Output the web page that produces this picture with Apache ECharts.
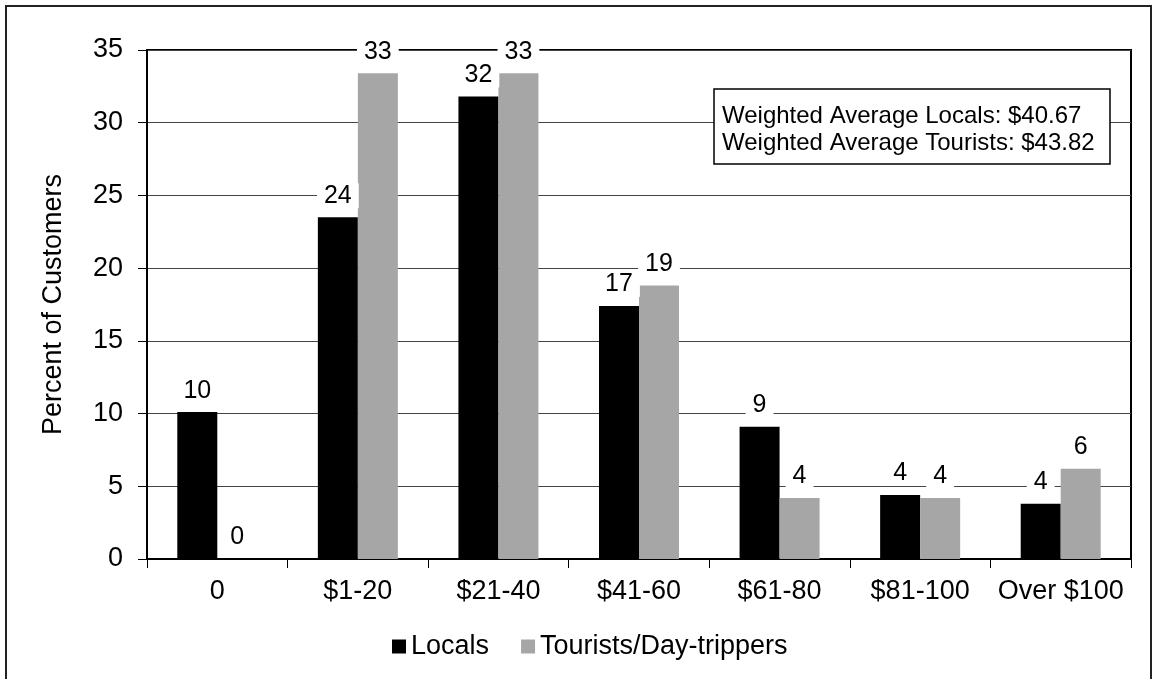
<!DOCTYPE html>
<html>
<head>
<meta charset="utf-8">
<script src="https://cdn.jsdelivr.net/npm/echarts@6/dist/echarts.min.js"></script>
<style>html,body{margin:0;padding:0;background:#fff}#c{width:1158px;height:679px}</style>
</head>
<body>
<div id="c"></div>
<script>
const categories = ['0', '$1-20', '$21-40', '$41-60', '$61-80', '$81-100', 'Over $100'];
const locals = [10.1, 23.5, 31.8, 17.4, 9.1, 4.4, 3.8];
const tourists = [0, 33.4, 33.4, 18.8, 4.2, 4.2, 6.2];
const seriesNames = ['Locals', 'Tourists/Day-trippers'];
const yTicks = [0, 5, 10, 15, 20, 25, 30, 35];
const noteLines = ['Weighted Average Locals: $40.67', 'Weighted Average Tourists: $43.82'];

const font = '"Liberation Sans", Arial, sans-serif';
const chart = echarts.init(document.getElementById('c'));
const labelCfg = {
  show: true, position: 'top', distance: 9,
  formatter: p => Math.round(p.value),
  fontFamily: font, fontSize: 25, color: '#000',
  backgroundColor: '#fff', padding: [0, 7]
};
chart.setOption({
  animation: false,
  textStyle: { fontFamily: font },
  grid: { left: 147, right: 27, top: 50, bottom: 120, show: true, borderColor: '#000', borderWidth: 2, containLabel: false },
  legend: {
    bottom: 14, left: 387, itemWidth: 14, itemHeight: 14, itemGap: 32,
    icon: 'rect',
    textStyle: { fontFamily: font, fontSize: 27, color: '#000' },
    data: seriesNames
  },
  xAxis: {
    type: 'category', data: categories,
    axisLine: { lineStyle: { color: '#000', width: 2 } },
    axisTick: { show: true, length: 9, lineStyle: { color: '#000', width: 1 } },
    axisLabel: { fontFamily: font, fontSize: 27, color: '#000', margin: 19, interval: 0, hideOverlap: false }
  },
  yAxis: {
    type: 'value', min: yTicks[0], max: yTicks[yTicks.length - 1], interval: 5,
    name: 'Percent of Customers', nameLocation: 'middle', nameGap: 80,
    nameTextStyle: { fontFamily: font, fontSize: 27, color: '#000' },
    axisLine: { show: true, lineStyle: { color: '#000', width: 2 } },
    axisTick: { show: true, length: 9, lineStyle: { color: '#000' } },
    axisLabel: { fontFamily: font, fontSize: 27, color: '#000', margin: 24 },
    splitLine: { lineStyle: { color: '#444', width: 1 } }
  },
  series: [
    { name: seriesNames[0], type: 'bar', data: locals, barWidth: 40, barGap: '0%',
      itemStyle: { color: '#000' }, label: labelCfg },
    { name: seriesNames[1], type: 'bar', data: tourists, barWidth: 40,
      itemStyle: { color: '#a6a6a6' }, label: labelCfg }
  ],
  graphic: [
    { type: 'rect', shape: { x: 6, y: 6, width: 1145, height: 700 }, style: { fill: 'none', stroke: '#222', lineWidth: 2 }, silent: true },
    { type: 'rect', shape: { x: 714, y: 89, width: 396, height: 75 }, style: { fill: '#fff', stroke: '#000', lineWidth: 1.5 }, z: 100 },
    { type: 'text', left: 722, top: 103, z: 101, style: { text: noteLines.join('\n'), font: '24px ' + font, fill: '#000', lineHeight: 27 } }
  ]
});
</script>
</body>
</html>
